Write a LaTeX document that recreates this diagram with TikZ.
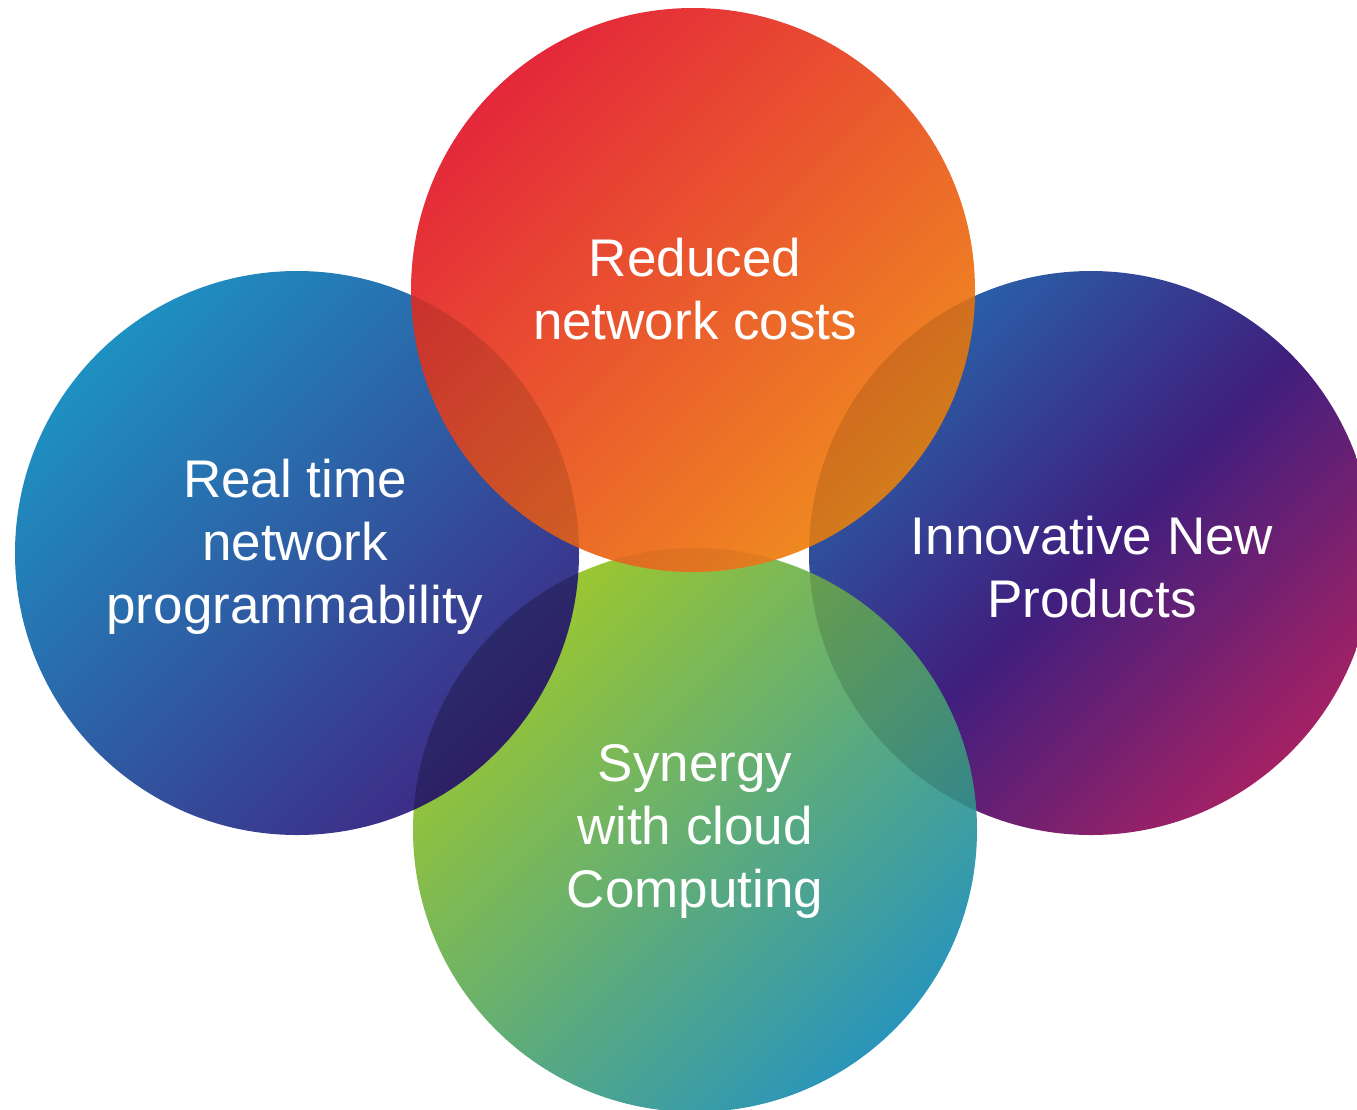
\documentclass[tikz,border=0pt]{standalone}
\usepackage{fontspec}
\setmainfont{Liberation Sans}
\begin{document}
\begin{tikzpicture}[x=1pt,y=-1pt,
  lbl/.style={text=white,align=center,font=\fontsize{53}{63}\selectfont,inner sep=0pt},
  darken/.style={fill=black,opacity=#1}]
\definecolor{tA}{HTML}{E4283A}\definecolor{tB}{HTML}{F08C20}
\definecolor{lA}{HTML}{1E90C2}\definecolor{lB}{HTML}{3E2A86}
\definecolor{rA}{HTML}{2470B2}\definecolor{rM}{HTML}{3F1F7E}\definecolor{rB}{HTML}{B8225F}
\definecolor{bA}{HTML}{9EC82C}\definecolor{bB}{HTML}{2A95BA}
\pgfdeclarehorizontalshading{rshade}{100bp}{color(0bp)=(rA); color(20bp)=(rA); color(50bp)=(rM); color(80bp)=(rB); color(100bp)=(rB)}
\useasboundingbox (0,0) rectangle (1357,1109);
\clip (0,0) rectangle (1357,1109);
\def\R{282}
% right, bottom, left, top
\shade[shading=rshade, shading angle=-45] (1091,553) circle (\R);
\shade[top color=bA, bottom color=bB, shading angle=45] (695,830) circle (\R);
\shade[top color=lA, bottom color=lB, shading angle=45] (297,553) circle (\R);
\shade[top color=tA, bottom color=tB, shading angle=45] (693,290) circle (\R);
% overlaps
\begin{scope}\clip (695,830) circle (\R); \fill[darken=0.14] (1091,553) circle (\R);\end{scope}
\begin{scope}\clip (297,553) circle (\R); \fill[darken=0.25] (695,830) circle (\R);\end{scope}
\begin{scope}\clip (693,290) circle (\R); \fill[darken=0.12] (297,553) circle (\R);\end{scope}
\begin{scope}\clip (693,290) circle (\R); \fill[darken=0.12] (1091,553) circle (\R);\end{scope}
\begin{scope}\clip (693,290) circle (\R); \fill[darken=0.06] (695,830) circle (\R);\end{scope}
% labels
\node[lbl] (top) at (695,289) {Reduced\\network costs};
\node[lbl] (left) at (295,547) {Real time\\network\\programmability};
\node[lbl] (right) at (1092,567) {Innovative New\\Products};
\node[lbl] (bottom) at (695,831) {Synergy\\with cloud\\Computing};
\end{tikzpicture}
\end{document}
